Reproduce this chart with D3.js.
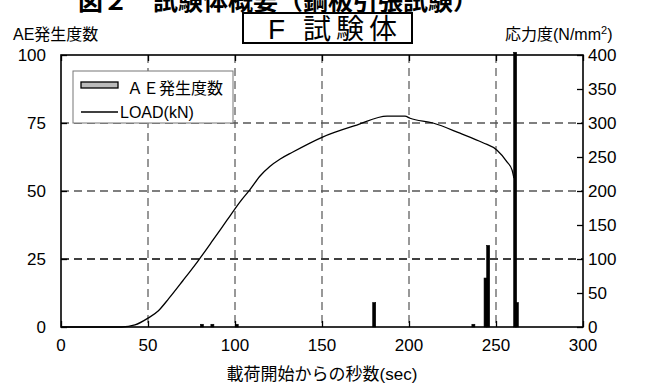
<!DOCTYPE html>
<html><head><meta charset="utf-8">
<script src="https://cdn.jsdelivr.net/npm/d3@7/dist/d3.min.js"></script>
<style>
html,body{margin:0;padding:0;background:#fff;}
svg{display:block;font-family:"Liberation Sans",Arial,"Noto Sans CJK JP",sans-serif;}
</style></head>
<body>
<svg id="c" width="645" height="385"></svg>
<script>
// ---- data ----
const xTicks = [0, 50, 100, 150, 200, 250, 300];
const leftTicks = [0, 25, 50, 75, 100];
const rightTicks = [0, 50, 100, 150, 200, 250, 300, 350, 400];
const aeTime  = [81, 87, 101, 180, 237, 244, 245.5, 261, 262];
const aeCount = [1, 1, 1, 9, 1, 18, 30, 101, 9];
const loadTime = [0, 35, 42.5, 50, 56, 62, 70, 78.7, 87.4, 95.4, 102.9, 108.6, 114.4, 120, 126, 133, 150, 170, 187.4, 197.7, 200.6, 213.8, 229.3, 242.5, 250.6, 256.3, 259.2, 260.3];
const loadVal  = [0, 0, 3, 13, 24, 42, 68, 97, 128, 157, 184, 202, 222, 236, 247, 257, 279, 297, 310, 310, 307, 300, 285, 271, 260, 243, 231, 219];

const svg = d3.select("#c");
const L = 61, R = 583, T = 55, B = 327;
const x = d3.scaleLinear().domain([0, 300]).range([L, R]);
const yL = d3.scaleLinear().domain([0, 100]).range([B, T]);
const yR = d3.scaleLinear().domain([0, 400]).range([B, T]);

// title (cropped at top as in the reference)
svg.append("text").attr("x", 278).attr("y", 10).attr("text-anchor", "middle")
  .attr("font-size", 25).attr("font-family", "Noto Sans CJK JP").attr("font-weight", "bold")
  .text("図２　試験体概要（鋼板引張試験）");

// gridlines
const g = svg.append("g");
g.selectAll("line.v").data(xTicks.filter(d => d > 0 && d < 300)).join("line")
  .attr("x1", d => x(d)).attr("x2", d => x(d)).attr("y1", T).attr("y2", B)
  .attr("stroke", "#777").attr("stroke-width", 1.5).attr("stroke-dasharray", "8,5");
g.selectAll("line.h").data(leftTicks.filter(d => d > 0 && d < 100)).join("line")
  .attr("x1", L).attr("x2", R).attr("y1", d => yL(d)).attr("y2", d => yL(d))
  .attr("stroke", d => d === 25 ? "#000" : "#555").attr("stroke-width", 1.3).attr("stroke-dasharray", "8,5");

// axes (ticks pointing inward)
const axL = d3.axisRight(yL).tickValues(leftTicks).tickSize(6).tickFormat("");
svg.append("g").attr("transform", `translate(${L},0)`).call(axL).call(s => s.select(".domain").remove())
  .selectAll("line").attr("stroke", "#000").attr("stroke-width", 1.3);
const axR = d3.axisLeft(yR).tickValues(rightTicks).tickSize(6).tickFormat("");
svg.append("g").attr("transform", `translate(${R},0)`).call(axR).call(s => s.select(".domain").remove())
  .selectAll("line").attr("stroke", "#000").attr("stroke-width", 1.3);
const axB = d3.axisTop(x).tickValues(xTicks).tickSize(6).tickFormat("");
svg.append("g").attr("transform", `translate(0,${B})`).call(axB).call(s => s.select(".domain").remove())
  .selectAll("line").attr("stroke", "#000").attr("stroke-width", 1.3);
const axT = d3.axisBottom(x).tickValues(xTicks).tickSize(6).tickFormat("");
svg.append("g").attr("transform", `translate(0,${T})`).call(axT).call(s => s.select(".domain").remove())
  .selectAll("line").attr("stroke", "#000").attr("stroke-width", 1.3);

// tick labels
svg.append("g").selectAll("text").data(leftTicks).join("text")
  .attr("x", 46).attr("y", d => yL(d) + 6).attr("text-anchor", "end").attr("font-size", 17).text(d => d);
svg.append("g").selectAll("text").data(rightTicks).join("text")
  .attr("x", 588).attr("y", d => yR(d) + 6).attr("text-anchor", "start").attr("font-size", 17).text(d => d);
svg.append("g").selectAll("text").data(xTicks).join("text")
  .attr("x", d => x(d)).attr("y", 351).attr("text-anchor", "middle").attr("font-size", 17).text(d => d);

// bars
svg.append("g").selectAll("rect").data(aeTime.map((t, i) => ({t, c: aeCount[i]}))).join("rect")
  .attr("x", d => x(d.t) - 1.5).attr("width", 3)
  .attr("y", d => yL(d.c)).attr("height", d => B - yL(d.c))
  .attr("fill", "#000").attr("stroke", "#000").attr("stroke-width", 0.6);

// load line
const line = d3.line().x(d => x(d[0])).y(d => yR(d[1])).curve(d3.curveMonotoneX);
svg.append("path").datum(loadTime.map((t, i) => [t, loadVal[i]]))
  .attr("d", line).attr("fill", "none").attr("stroke", "#000").attr("stroke-width", 1.3);

// frame
svg.append("rect").attr("x", L).attr("y", T).attr("width", R - L).attr("height", B - T)
  .attr("fill", "none").attr("stroke", "#000").attr("stroke-width", 1.6);

// legend
const lg = svg.append("g");
lg.append("rect").attr("x", 73).attr("y", 71).attr("width", 160).attr("height", 52)
  .attr("fill", "#fff").attr("stroke", "#777").attr("stroke-width", 1);
lg.append("rect").attr("x", 81).attr("y", 82).attr("width", 37).attr("height", 6)
  .attr("fill", "#bbb").attr("stroke", "#000").attr("stroke-width", 1.3);
lg.append("text").attr("x", 127).attr("y", 94).attr("font-size", 16).text("ＡＥ発生度数");
lg.append("line").attr("x1", 81).attr("x2", 118).attr("y1", 112).attr("y2", 112)
  .attr("stroke", "#000").attr("stroke-width", 1.3);
lg.append("text").attr("x", 120).attr("y", 118).attr("font-size", 16).text("LOAD(kN)");

// axis titles
svg.append("text").attr("x", 13).attr("y", 40).attr("font-size", 16).text("AE発生度数");
const rt = svg.append("text").attr("x", 505).attr("y", 40).attr("font-size", 16);
rt.append("tspan").text("応力度(N/mm");
rt.append("tspan").attr("dy", -6).attr("font-size", 11).text("2");
rt.append("tspan").attr("dy", 6).text(")");
svg.append("text").attr("x", 322).attr("y", 380).attr("text-anchor", "middle").attr("font-size", 17)
  .text("載荷開始からの秒数(sec)");

// specimen box
svg.append("rect").attr("x", 243).attr("y", 13).attr("width", 169).attr("height", 30)
  .attr("fill", "#fff").attr("stroke", "#000").attr("stroke-width", 2);
svg.append("text").attr("x", 268).attr("y", 39).attr("font-size", 28).attr("letter-spacing", 5)
  .text("F 試験体");
</script>
</body></html>
